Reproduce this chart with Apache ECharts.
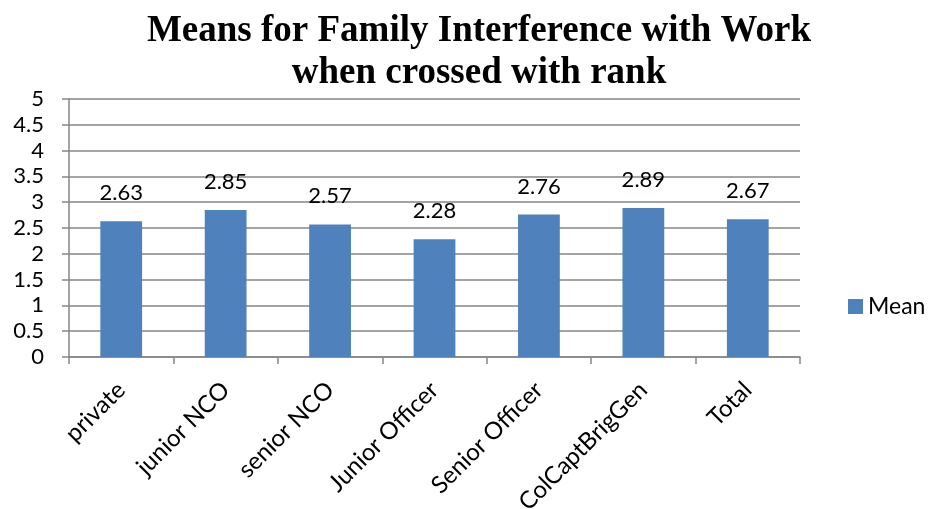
<!DOCTYPE html>
<html>
<head>
<meta charset="utf-8">
<script src="https://cdn.jsdelivr.net/npm/echarts@6/dist/echarts.min.js"></script>
<style>
  html, body { margin: 0; padding: 0; background: #fff; }
  #chart { width: 930px; height: 509px; }
</style>
</head>
<body>
<div id="chart"></div>
<script>
// Rank categories and their mean scores
const categories = ['private', 'junior NCO', 'senior NCO', 'Junior Officer', 'Senior Officer', 'ColCaptBrigGen', 'Total'];
const meanValues = [2.63, 2.85, 2.57, 2.28, 2.76, 2.89, 2.67];
const seriesName = 'Mean';
const titleLines = ['Means for Family Interference with Work', 'when crossed with rank'];

const labelFont = 'Lato, "Open Sans", "Liberation Sans", sans-serif';

const chart = echarts.init(document.getElementById('chart'));
chart.setOption({
  animation: false,
  backgroundColor: '#ffffff',
  title: {
    text: titleLines.join('\n'),
    left: 474,
    textAlign: 'center',
    top: 5,
    textStyle: {
      fontFamily: '"Liberation Serif", "Times New Roman", serif',
      fontWeight: 'bold',
      fontSize: 37,
      lineHeight: 42,
      color: '#000'
    }
  },
  legend: {
    data: [seriesName],
    left: 843,
    top: 290,
    itemWidth: 15,
    itemHeight: 15,
    itemGap: 8,
    icon: 'rect',
    textStyle: { fontFamily: labelFont, fontSize: 23, color: '#000' }
  },
  grid: { left: 69, right: 130, top: 99, bottom: 152, containLabel: false, outerBoundsMode: 'none' },
  xAxis: {
    type: 'category',
    data: categories,
    axisLine: { lineStyle: { color: '#868686', width: 1.5 } },
    axisTick: { show: true, alignWithLabel: false, length: 7, lineStyle: { color: '#868686', width: 1.5 } },
    axisLabel: {
      rotate: 45,
      interval: 0,
      margin: 29,
      fontFamily: labelFont,
      fontSize: 24,
      color: '#000'
    }
  },
  yAxis: {
    type: 'value',
    min: 0,
    max: 5,
    interval: 0.5,
    axisLine: { show: true, lineStyle: { color: '#868686', width: 1.5 } },
    axisTick: { show: true, length: 7, lineStyle: { color: '#868686', width: 1.5 } },
    splitLine: { lineStyle: { color: '#868686', width: 1.5 } },
    axisLabel: {
      margin: 25,
      fontFamily: labelFont,
      fontSize: 22,
      color: '#000'
    }
  },
  series: [{
    name: seriesName,
    type: 'bar',
    data: meanValues,
    barCategoryGap: '60%',
    itemStyle: { color: '#4f81bd' },
    label: {
      show: true,
      position: 'top',
      distance: 17,
      fontFamily: labelFont,
      fontSize: 22,
      color: '#000',
      formatter: p => p.value.toFixed(2)
    }
  }]
});
</script>
</body>
</html>
